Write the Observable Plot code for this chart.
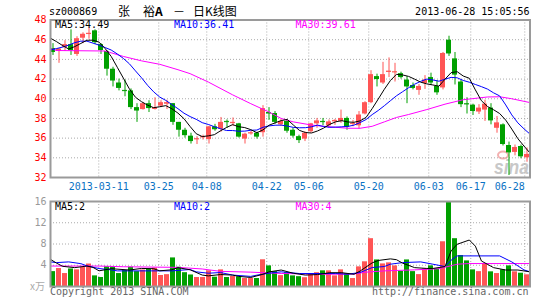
<!DOCTYPE html>
<html>
<head>
<meta charset="utf-8">
<script src="https://cdn.jsdelivr.net/npm/d3@7"></script>
<script src="https://cdn.jsdelivr.net/npm/@observablehq/plot@0.6"></script>
<style>
html,body{margin:0;padding:0;background:#fff;}
#wrap{position:relative;width:545px;height:300px;overflow:hidden;}
#wrap svg{position:absolute;left:0;}
</style>
</head>
<body>
<div id="wrap"></div>
<script>
// ---- data ----
const open = [45.1,44.8,45.2,45.5,44.5,46.15,46.6,46.9,45.5,44.8,
43.0,41.6,40.85,40.8,39.1,38.9,39.5,38.95,39.25,39.5,
39.5,37.6,36.8,36.2,35.9,36.1,35.85,37.15,36.9,37.7,
37.55,37.45,35.9,36.5,36.5,36.55,38.6,38.5,37.35,37.7,
36.8,36.15,35.9,36.65,37.45,37.7,37.25,37.7,37.7,38.0,
37.45,37.25,38.45,39.6,42.25,41.6,42.75,42.7,42.55,41.9,
41.35,40.85,41.55,42.15,41.25,41.1,45.95,44.05,41.7,39.5,
39.35,38.65,38.85,39.05,37.0,37.35,35.25,34.55,35.15,34.0];
const high = [45.6,45.1,45.9,47.0,46.3,46.7,47.2,47.0,45.6,44.9,
43.2,42.0,41.9,41.0,39.5,39.6,39.8,40.1,39.8,39.85,
39.5,37.6,37.0,36.5,36.15,36.3,37.2,37.4,38.1,37.85,
38.05,37.5,36.5,36.7,36.6,39.3,39.1,38.7,37.9,37.85,
37.0,36.3,36.65,37.5,38.0,38.0,37.85,37.9,38.85,38.15,
37.8,38.7,39.7,42.85,42.5,43.7,44.15,43.6,42.7,42.25,
41.6,41.45,42.35,42.6,41.85,44.7,46.35,44.7,41.9,40.1,
39.45,39.4,39.85,39.5,38.2,37.45,35.6,35.3,35.3,35.0];
const low = [44.4,43.6,44.8,44.4,44.3,45.6,46.05,45.5,44.5,42.3,
41.2,40.8,40.2,38.9,37.6,38.85,38.6,38.85,39.1,38.9,
37.3,36.1,36.0,35.4,35.35,35.8,35.4,36.7,36.6,37.0,
37.2,36.0,35.4,36.3,35.9,36.1,37.8,37.4,37.2,36.5,
36.0,35.45,35.65,36.5,37.0,37.25,37.0,37.3,37.5,36.8,
37.15,36.9,38.35,39.5,41.2,41.45,42.15,41.7,42.0,39.5,
40.9,40.35,40.95,41.35,40.35,40.9,44.3,41.4,39.1,38.45,
38.3,38.4,37.7,37.35,36.5,35.2,32.2,34.2,33.9,33.55];
const close = [44.7,45.05,45.5,44.9,46.1,46.55,46.65,45.7,44.9,43.0,
41.8,41.05,40.8,39.1,38.75,39.5,39.0,39.1,39.6,39.6,
37.6,36.8,36.25,35.65,35.95,36.15,37.15,36.85,37.6,37.65,
37.6,36.1,36.4,36.55,36.1,39.0,38.5,37.6,37.7,36.7,
36.2,35.75,36.5,37.45,37.75,37.65,37.65,37.8,38.0,37.1,
37.5,38.35,39.6,42.45,41.95,42.45,42.8,42.75,42.15,41.2,
41.05,41.25,41.9,41.6,40.6,44.6,44.55,42.4,39.4,39.45,
38.7,39.05,39.45,37.75,37.55,35.35,34.5,35.05,34.1,34.35];
const volume = [2.8,3.38,2.44,3.3,3.13,3.57,4.23,2.0,1.69,3.73,
3.7,2.44,3.0,3.63,2.8,3.1,3.23,3.47,2.07,2.23,
5.38,3.63,2.6,2.17,1.69,1.69,2.95,1.75,3.13,1.69,
1.88,1.82,1.5,1.5,1.5,5.03,3.88,2.8,2.05,2.6,
2.0,1.85,1.65,2.35,2.6,2.95,2.95,2.0,3.13,2.4,
1.5,3.7,4.65,9.0,5.0,4.25,4.45,3.88,2.85,5.0,
2.8,2.24,3.3,3.88,3.35,8.42,15.9,9.0,5.82,4.82,
3.13,2.8,4.3,2.76,2.44,3.13,3.88,2.76,2.5,2.2];
const ma5 = [46.15,45.8,45.4,45.05,45.3,45.62,45.94,45.95,45.75,45.1,
44.3,43.2,42.1,41.0,40.15,39.7,39.35,39.09,39.19,39.3,
38.98,38.54,37.97,37.18,36.45,36.16,36.23,36.35,36.74,37.08,
37.37,37.16,37.07,36.86,36.55,36.83,37.31,37.55,37.78,37.9,
37.34,36.79,36.57,36.52,36.73,37.02,37.4,37.66,37.77,37.64,
37.61,37.75,38.11,39.0,39.97,40.96,41.85,42.48,42.42,42.27,
41.99,41.68,41.51,41.4,41.28,41.99,42.65,42.75,42.31,42.08,
40.9,39.8,39.21,38.88,38.5,37.83,36.92,35.95,35.2,34.49];
const ma10 = [44.95,45.1,45.25,45.45,45.7,45.85,45.85,45.65,45.45,45.2,
44.95,44.55,44.1,43.55,42.83,42.13,41.36,40.70,40.17,39.83,
39.41,38.99,38.53,38.19,37.91,37.57,37.39,37.16,36.96,36.77,
36.77,36.70,36.71,36.80,36.82,37.10,37.24,37.31,37.32,37.23,
37.09,37.05,37.06,37.15,37.32,37.18,37.10,37.12,37.15,37.19,
37.32,37.58,37.89,38.39,38.81,39.29,39.8,40.30,40.71,41.12,
41.48,41.77,42.0,41.91,41.78,41.99,42.17,42.13,41.86,41.68,
41.45,41.23,40.98,40.6,40.29,39.37,38.36,37.55,36.95,36.41];
const ma30Day = [0,1,9,12,15,18,21,23,26,30,33,36,38,40,43,45,49,51,53,55,57,59,62,65,68,72,74,76,79];
const ma30Val = [45.1,44.9,44.85,44.3,43.85,43.5,42.95,42.55,41.7,40.4,39.5,38.65,38.0,37.65,37.33,37.2,37.0,37.0,37.2,37.65,38.1,38.4,38.9,39.45,39.9,40.18,40.2,40.0,39.61];
const volMa5Day = [0,1,2,4,6,7,8,10,13,15,17,18,20,21,23,25,26,28,30,31,33,35,36,38,40,42,44,46,48,50,51,53,54,56,57,58,60,62,63,65,66,67,69,70,71,73,75,77,79];
const volMa5Val = [5.1,4.4,3.8,3.55,3.85,3.6,2.95,3.35,3.1,3.4,3.35,2.95,3.15,3.55,3.15,2.15,2.0,2.25,2.15,1.9,1.7,2.3,2.75,3.1,2.5,2.15,2.25,2.6,2.6,2.3,2.9,4.45,4.9,5.2,5.05,4.4,3.55,3.4,3.4,3.75,6.7,7.95,8.75,7.6,4.8,3.55,3.1,3.1,2.76];
const volMa10Day = [0,1,3,5,6,8,10,11,20,23,24,26,28,30,33,34,36,38,41,47,49,51,53,55,56,58,61,63,65,66,67,74,76,78,79];
const volMa10Val = [4.63,4.5,4.63,4.3,3.88,3.38,3.13,2.94,2.94,3.2,2.76,2.5,2.63,2.15,1.9,2.14,2.5,2.76,2.44,2.44,2.32,2.63,3.57,3.76,4.2,4.5,4.63,4.2,3.76,4.95,5.76,5.76,4.63,3.13,2.76];
const volMa30Day = [0,8,12,21,25,28,33,38,45,50,52,55,60,64,66,67,69,79];
const volMa30Val = [3.85,3.85,3.72,3.6,3.3,2.85,2.7,2.45,2.3,2.35,2.7,2.94,3.13,3.35,3.9,4.2,4.32,4.32];
const priceTicks = [32,34,36,38,40,42,44,46,48];
const volTicks = [4,8,12,16];
const dateTickDay = [8,18,26,36,43,53,63,70,79];
const dateTickLabel = ["2013-03-11","03-25","04-08","04-22","05-06","05-20","06-03","06-17","06-28"];
const priceLegend = [["MA5:","34.49"],["MA10:","36.41"],["MA30:","39.61"]];
const volLegend = [["MA5:","2"],["MA10:","2"],["MA30:","4"]];

// ---- drawing ----
const UP = "#ff5555", DOWN = "#00a000", GRID = "#aaaaaa", FRAME = "#9a9a9a";
const MONO = "DejaVu Sans Mono";
const days = open.map((_, i) => i);
const dir = days.map(i => close[i] >= open[i] ? UP : DOWN);
const HALF = 0.41667;
const maX = i => -0.41667 + i * 1.0116;
const gridX = d => d - 0.37;
const dateFmt = d => dateTickLabel[dateTickDay.indexOf(Math.round(d + 0.37))];
const legendColors = ["#000000", "#0000ff", "#ff00ff"];
const legendX = [55, 174, 295.5];

const wrap = document.getElementById("wrap");

// watermark (behind the charts)
const wm = d3.select(wrap).append("svg").attr("width", 545).attr("height", 300).style("top", "0px");
wm.append("ellipse").attr("cx", 503).attr("cy", 155).attr("rx", 5).attr("ry", 3.5)
  .attr("fill", "none").attr("stroke", "#f3b0b0").attr("stroke-width", 2);
wm.append("text").attr("x", 494).attr("y", 174).attr("font-family", "Liberation Sans")
  .attr("font-weight", "bold").attr("font-style", "italic").attr("font-size", 20)
  .attr("textLength", 35).attr("lengthAdjust", "spacingAndGlyphs").attr("fill", "#c8c8c8").text("sina");

const price = Plot.plot({
  width: 545, height: 196,
  marginTop: 19.5, marginBottom: 19, marginLeft: 50, marginRight: 15.5,
  style: {background: "transparent", overflow: "visible", fontFamily: MONO, fontSize: "10px", position: "absolute", top: "0px", left: "0px"},
  x: {domain: [-HALF, 79.5]},
  y: {domain: [32, 48]},
  color: {type: "identity"},
  marks: [
    Plot.ruleY(priceTicks.slice(1, -1), {stroke: GRID, strokeDasharray: "1,2"}),
    Plot.ruleX(dateTickDay, {x: gridX, stroke: GRID, strokeDasharray: "1,2"}),
    Plot.ruleX(days, {x: i => i, y1: i => low[i], y2: i => high[i], stroke: i => dir[i]}),
    Plot.rect(days, {x1: i => i - HALF, x2: i => i + HALF, y1: i => open[i], y2: i => close[i], fill: i => dir[i]}),
    Plot.ruleY(days, {filter: i => Math.abs(open[i] - close[i]) < 0.15, y: i => (open[i] + close[i]) / 2, x1: i => i - HALF, x2: i => i + HALF, stroke: i => dir[i]}),
    Plot.line(ma30Day.map((_, k) => k), {x: k => maX(ma30Day[k]), y: k => ma30Val[k], stroke: "#ff00ff", strokeWidth: 1}),
    Plot.line(days, {x: maX, y: i => ma10[i], stroke: "#0000ff", strokeWidth: 1}),
    Plot.line(days, {x: maX, y: i => ma5[i], stroke: "#000000", strokeWidth: 1}),
    Plot.frame({stroke: FRAME, strokeWidth: 2}),
    Plot.axisY(priceTicks, {tickSize: 0, tickPadding: 4, fill: "#ff0000", fontSize: 10, label: null}),
    Plot.axisX(dateTickDay.slice(0, -1).map(gridX), {tickSize: 0, tickPadding: 5.5, fill: "#0a72c4", fontSize: 10, tickFormat: dateFmt, label: null}),
    Plot.axisX(dateTickDay.slice(-1).map(gridX), {tickSize: 0, tickPadding: 5.5, fill: "#0a72c4", fontSize: 10, textAnchor: "end", tickFormat: dateFmt, label: null})
  ]
});
wrap.appendChild(price);

const vol = Plot.plot({
  width: 545, height: 104,
  marginTop: 5, marginBottom: 14, marginLeft: 50, marginRight: 15.5,
  style: {background: "transparent", overflow: "visible", fontFamily: MONO, fontSize: "10px", position: "absolute", top: "196px", left: "0px"},
  x: {domain: [-HALF, 79.5], axis: null},
  y: {domain: [0, 16]},
  color: {type: "identity"},
  marks: [
    Plot.ruleY(volTicks.slice(0, -1), {stroke: GRID, strokeDasharray: "1,2"}),
    Plot.ruleX(dateTickDay, {x: gridX, stroke: GRID, strokeDasharray: "1,2"}),
    Plot.rect(days, {x1: i => i - HALF, x2: i => i + HALF, y1: 0, y2: i => volume[i], fill: i => dir[i]}),
    Plot.line(volMa30Day.map((_, k) => k), {x: k => maX(volMa30Day[k]), y: k => volMa30Val[k], stroke: "#ff00ff", strokeWidth: 1}),
    Plot.line(volMa10Day.map((_, k) => k), {x: k => maX(volMa10Day[k]), y: k => volMa10Val[k], stroke: "#0000ff", strokeWidth: 1}),
    Plot.line(volMa5Day.map((_, k) => k), {x: k => maX(volMa5Day[k]), y: k => volMa5Val[k], stroke: "#000000", strokeWidth: 1}),
    Plot.frame({stroke: FRAME, strokeWidth: 2}),
    Plot.axisY(volTicks, {tickSize: 0, tickPadding: 4, fill: "#999999", fontSize: 10, label: null})
  ]
});
wrap.appendChild(vol);

// text overlay
const ov = d3.select(wrap).append("svg").attr("width", 545).attr("height", 300).style("top", "0px")
  .style("pointer-events", "none");
function txt(s, x, y, o = {}) {
  const t = ov.append("text").attr("x", x).attr("y", y)
    .attr("font-family", o.font || MONO).attr("font-size", o.size || 10)
    .attr("fill", o.fill || "#000").attr("text-anchor", o.anchor || "start")
    .attr("font-weight", o.weight || "normal").text(s);
  return t;
}
txt("sz000869", 49, 14.5);
const CJK = "Noto Sans CJK SC";
txt("张", 118, 15.5, {font: CJK, size: 12});
const yu = txt("裕", 143, 15.5, {font: CJK, size: 12});
yu.append("tspan").attr("font-weight", "bold").text("A");
txt("－", 173, 15.5, {font: CJK, size: 12});
txt("日K线图", 193, 15.5, {font: CJK, size: 12});
txt("2013-06-28 15:05:56", 529.5, 14.5, {anchor: "end"});
priceLegend.forEach((d, k) => txt(d[0] + d[1], legendX[k], 28, {fill: legendColors[k]}));
volLegend.forEach((d, k) => txt(d[0] + d[1], legendX[k], 210, {fill: legendColors[k]}));
txt("x万", 30, 290, {font: CJK, size: 10, fill: "#aaaaaa"});
txt("Copyright 2013 SINA.COM", 50, 295, {fill: "#666666"});
txt("http://finance.sina.com.cn", 528.5, 295, {fill: "#666666", anchor: "end"});
</script>
</body>
</html>
